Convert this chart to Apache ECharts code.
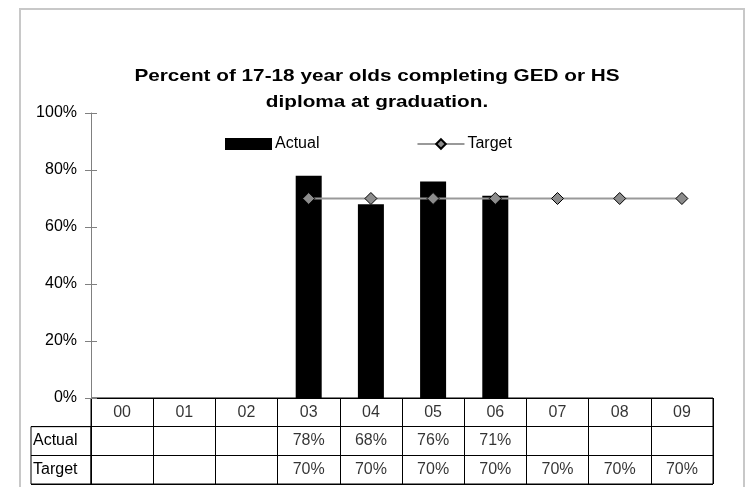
<!DOCTYPE html>
<html>
<head>
<meta charset="utf-8">
<script src="https://cdn.jsdelivr.net/npm/echarts@6/dist/echarts.min.js"></script>
<style>html,body{margin:0;padding:0;background:#fff;}#c{width:745px;height:487px;}</style>
</head>
<body>
<div id="c"></div>
<script>
var years = ['00','01','02','03','04','05','06','07','08','09'];
var actual = [null, null, null, 78, 68, 76, 71, null, null, null];
var target = [null, null, null, 70, 70, 70, 70, 70, 70, 70];
var rowNames = ['hdr', 'Actual', 'Target'];
var titleText = 'Percent of 17-18 year olds completing GED or HS\ndiploma at graduation.';

var FONT = 'Liberation Sans, Arial, sans-serif';
var FS = 16;
var plotLeft = 91, plotRight = 713, plotTop = 113, plotBottom = 398, tableBottom = 484, labelLeft = 31;
var rowH = (tableBottom - plotBottom) / 3;

function pct(v) { return v == null ? null : v + '%'; }

var textData = [];
years.forEach(function (y, i) { textData.push([i, 0, y]); });
actual.forEach(function (v, i) { if (v != null) textData.push([i, 1, pct(v)]); });
target.forEach(function (v, i) { if (v != null) textData.push([i, 2, pct(v)]); });

var chart = echarts.init(document.getElementById('c'), null, {renderer: 'canvas'});
chart.setOption({
  animation: false,
  backgroundColor: '#fff',
  textStyle: {fontFamily: FONT},
  legend: {
    left: 225, top: 136, padding: 0,
    itemWidth: 47, itemHeight: 12, itemGap: 97,
    textStyle: {fontFamily: FONT, fontSize: FS, color: '#000', padding: [0, 0, 0, -2]},
    data: [{name: 'Actual', icon: 'rect'}, {name: 'Target'}]
  },
  graphic: [{
    type: 'rect', silent: true, z: -10,
    shape: {x: 20, y: 9, width: 724, height: 500},
    style: {fill: null, stroke: '#c8c8c8', lineWidth: 2}
  }, {
    type: 'text', silent: true, x: 377, y: 63, scaleX: 1.22,
    style: {text: titleText, fill: '#000', font: 'bold 17px ' + FONT,
            textAlign: 'center', textVerticalAlign: 'top', lineHeight: 26}
  }],
  grid: [
    {left: plotLeft, top: plotTop, width: plotRight - plotLeft, height: plotBottom - plotTop, show: false},
    {left: plotLeft, top: plotBottom, width: plotRight - plotLeft, height: tableBottom - plotBottom, show: true, borderColor: '#000', borderWidth: 1, backgroundColor: 'transparent'},
    {left: labelLeft, top: plotBottom + rowH, width: plotLeft - labelLeft, height: tableBottom - plotBottom - rowH, show: true, borderColor: '#000', borderWidth: 1, backgroundColor: 'transparent'}
  ],
  xAxis: [
    {gridIndex: 0, type: 'category', data: years, boundaryGap: true,
     axisLine: {show: true, lineStyle: {color: '#000', width: 1}}, axisTick: {show: false}, axisLabel: {show: false}, splitLine: {show: false}},
    {gridIndex: 1, type: 'category', data: years, boundaryGap: true,
     axisLine: {show: false}, axisTick: {show: false}, axisLabel: {show: false, interval: 0},
     splitLine: {show: true, interval: 0, lineStyle: {color: '#000', width: 1}}},
    {gridIndex: 2, type: 'value', show: false}
  ],
  yAxis: [
    {gridIndex: 0, type: 'value', min: 0, max: 100, interval: 20, position: 'left',
     axisLine: {show: true, lineStyle: {color: '#808080'}},
     axisTick: {show: true, length: 6, lineStyle: {color: '#808080'}},
     axisLabel: {formatter: '{value}%', margin: 14, color: '#000', fontSize: FS, fontFamily: FONT},
     splitLine: {show: false}},
    {gridIndex: 0, type: 'value', min: 0, max: 100, interval: 20, position: 'left', offset: 0,
     axisLine: {show: false}, axisTick: {show: true, inside: true, length: 6, lineStyle: {color: '#808080'}},
     axisLabel: {show: false}, splitLine: {show: false}},
    {gridIndex: 1, type: 'category', data: rowNames, inverse: true,
     axisLine: {show: false}, axisTick: {show: false}, axisLabel: {show: false, interval: 0},
     splitLine: {show: true, interval: 0, lineStyle: {color: '#000', width: 1}}},
    {gridIndex: 2, type: 'category', data: rowNames.slice(1), inverse: true,
     axisLine: {show: false}, axisTick: {show: false},
     axisLabel: {show: true, inside: true, margin: 2, interval: 0, color: '#000', fontSize: FS, fontFamily: FONT},
     splitLine: {show: true, interval: 0, lineStyle: {color: '#000', width: 1}}}
  ],
  series: [
    {name: 'Actual', type: 'bar', xAxisIndex: 0, yAxisIndex: 0, data: actual, barWidth: 26,
     itemStyle: {color: '#000'}, silent: true},
    {name: 'Target', type: 'line', xAxisIndex: 0, yAxisIndex: 0, data: target,
     symbol: 'diamond', symbolSize: 12, showAllSymbol: true,
     lineStyle: {color: '#999999', width: 2},
     itemStyle: {color: '#8c8c8c', borderColor: '#000', borderWidth: 1}, silent: true},
    {name: 'table', type: 'scatter', xAxisIndex: 1, yAxisIndex: 2, data: textData,
     symbolSize: 0, silent: true,
     label: {show: true, position: 'inside', formatter: function (p) { return p.data[2]; },
             color: '#000', fontSize: FS, fontFamily: FONT}}
  ]
});
</script>
</body>
</html>
